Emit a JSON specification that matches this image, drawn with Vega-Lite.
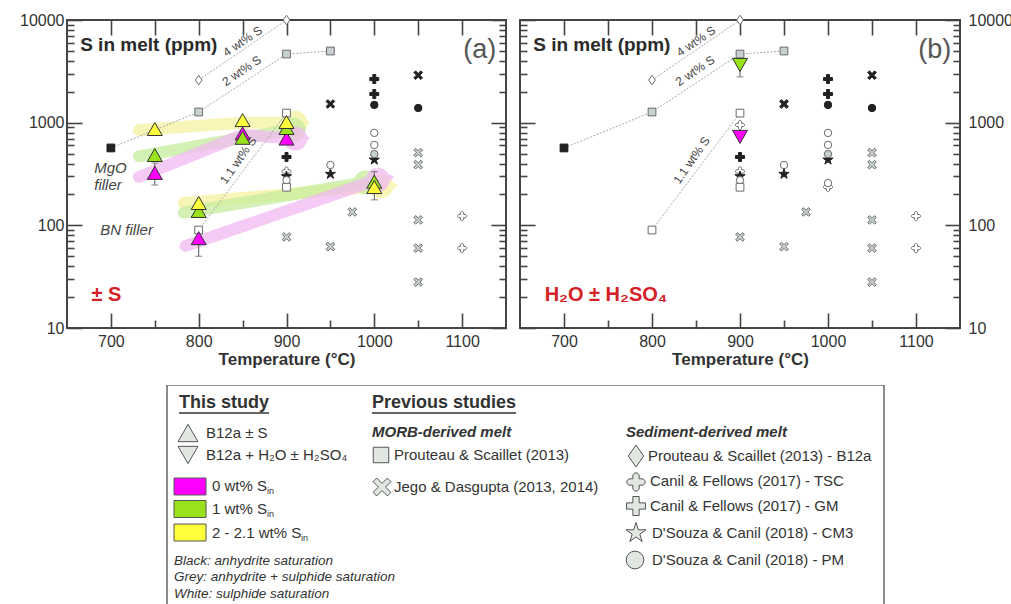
{
"$schema": "https://vega.github.io/schema/vega-lite/v6.json",
"padding": {"left": 18, "top": 11, "right": 0, "bottom": 0},
"background": "white",
"config": {
  "font": "Liberation Sans",
  "view": {"stroke": null},
  "axis": {"domain": false, "grid": false, "tickColor": "#444", "tickWidth": 1.6, "labelColor": "#333", "labelFont": "Liberation Sans", "labelFontSize": 16, "titleFont": "Liberation Sans", "titleFontSize": 17, "titleFontWeight": "bold", "titleColor": "#333"}
},
"datasets": {
  "prev": [
    {"study":"JD","sat":"anhydrite + sulphide","T":900,"S":77},
    {"study":"JD","sat":"anhydrite + sulphide","T":950,"S":62},
    {"study":"JD","sat":"anhydrite + sulphide","T":975,"S":135},
    {"study":"JD","sat":"anhydrite + sulphide","T":1050,"S":510},
    {"study":"JD","sat":"anhydrite + sulphide","T":1050,"S":390},
    {"study":"JD","sat":"anhydrite + sulphide","T":1050,"S":113},
    {"study":"JD","sat":"anhydrite + sulphide","T":1050,"S":60},
    {"study":"JD","sat":"anhydrite + sulphide","T":1050,"S":28},
    {"study":"JD","sat":"anhydrite","T":950,"S":1520},
    {"study":"JD","sat":"anhydrite","T":1050,"S":2900},
    {"study":"CF-TSC","sat":"sulphide","T":1100,"S":123},
    {"study":"CF-TSC","sat":"sulphide","T":1100,"S":60},
    {"study":"CF-TSC","sat":"sulphide","T":900,"S":950},
    {"study":"CF-TSC","sat":"sulphide","T":1000,"S":236},
    {"study":"CF-TSC","sat":"sulphide","T":900,"S":335},
    {"study":"CF-GM","sat":"anhydrite","T":1000,"S":2660},
    {"study":"CF-GM","sat":"anhydrite","T":1000,"S":1900},
    {"study":"CF-GM","sat":"anhydrite","T":900,"S":463},
    {"study":"DC-CM3","sat":"anhydrite","T":950,"S":316},
    {"study":"DC-CM3","sat":"anhydrite","T":1000,"S":435},
    {"study":"DC-CM3","sat":"anhydrite","T":900,"S":300},
    {"study":"DC-PM","sat":"anhydrite","T":1000,"S":1490},
    {"study":"DC-PM","sat":"anhydrite","T":1050,"S":1390},
    {"study":"DC-PM","sat":"sulphide","T":1000,"S":795},
    {"study":"DC-PM","sat":"sulphide","T":1000,"S":607},
    {"study":"DC-PM","sat":"anhydrite + sulphide","T":1000,"S":495},
    {"study":"DC-PM","sat":"sulphide","T":950,"S":387},
    {"study":"DC-PM","sat":"sulphide","T":1000,"S":258},
    {"study":"DC-PM","sat":"sulphide","T":900,"S":275},
    {"study":"PS-MORB","sat":"anhydrite","T":700,"S":567},
    {"study":"PS-MORB","sat":"anhydrite + sulphide","T":800,"S":1270},
    {"study":"PS-MORB","sat":"anhydrite + sulphide","T":900,"S":4660},
    {"study":"PS-MORB","sat":"anhydrite + sulphide","T":950,"S":4990},
    {"study":"PS-MORB","sat":"sulphide","T":800,"S":90},
    {"study":"PS-MORB","sat":"sulphide","T":900,"S":1240},
    {"study":"PS-MORB","sat":"sulphide","T":900,"S":235},
    {"study":"PS-B12a","sat":"sulphide","T":800,"S":2600},
    {"study":"PS-B12a","sat":"sulphide","T":900,"S":10000}
  ],
  "iso": [
    {"iso":"4","T":800,"S":2600},{"iso":"4","T":900,"S":10000},
    {"iso":"2","T":700,"S":567},{"iso":"2","T":800,"S":1270},{"iso":"2","T":900,"S":4660},{"iso":"2","T":950,"S":4990},
    {"iso":"1.1","T":800,"S":90},{"iso":"1.1","T":900,"S":1240}
  ],
  "this": [
    {"panel":"a","study":"B12a ± S","Sin":"0 wt%","T":750,"S":324},
    {"panel":"a","study":"B12a ± S","Sin":"0 wt%","T":800,"S":75},
    {"panel":"a","study":"B12a ± S","Sin":"0 wt%","T":850,"S":785},
    {"panel":"a","study":"B12a ± S","Sin":"0 wt%","T":900,"S":700},
    {"panel":"a","study":"B12a ± S","Sin":"1 wt%","T":750,"S":484},
    {"panel":"a","study":"B12a ± S","Sin":"1 wt%","T":800,"S":138},
    {"panel":"a","study":"B12a ± S","Sin":"1 wt%","T":850,"S":712},
    {"panel":"a","study":"B12a ± S","Sin":"1 wt%","T":900,"S":887},
    {"panel":"a","study":"B12a ± S","Sin":"1 wt%","T":1000,"S":266},
    {"panel":"a","study":"B12a ± S","Sin":"2 - 2.1 wt%","T":750,"S":867},
    {"panel":"a","study":"B12a ± S","Sin":"2 - 2.1 wt%","T":800,"S":165},
    {"panel":"a","study":"B12a ± S","Sin":"2 - 2.1 wt%","T":850,"S":1060},
    {"panel":"a","study":"B12a ± S","Sin":"2 - 2.1 wt%","T":900,"S":1015},
    {"panel":"a","study":"B12a ± S","Sin":"2 - 2.1 wt%","T":1000,"S":236},
    {"panel":"b","study":"B12a + H2O ± H2SO4","Sin":"1 wt%","T":900,"S":3650},
    {"panel":"b","study":"B12a + H2O ± H2SO4","Sin":"0 wt%","T":900,"S":727}
  ],
  "err": [
    {"panel":"a","T":750,"lo":247,"hi":405},
    {"panel":"a","T":800,"lo":50,"hi":95},
    {"panel":"a","T":1000,"lo":177,"hi":333},
    {"panel":"b","T":900,"lo":2790,"hi":4770}
  ],
  "bands": [
    {"band":"Y-MgO","Sin":"2 - 2.1 wt%","seq":1,"part":"shaft","T":732,"S":849},
    {"band":"Y-MgO","Sin":"2 - 2.1 wt%","seq":2,"part":"shaft","T":850,"S":1000},
    {"band":"Y-MgO","Sin":"2 - 2.1 wt%","seq":3,"part":"shaft","T":909,"S":1000},
    {"band":"Y-MgO","Sin":"2 - 2.1 wt%","seq":4,"part":"head","T":910,"S":1000},
    {"band":"Y-MgO","Sin":"2 - 2.1 wt%","seq":5,"part":"tip","T":926,"S":1005},
    {"band":"G-MgO","Sin":"1 wt%","seq":1,"part":"shaft","T":732,"S":470},
    {"band":"G-MgO","Sin":"1 wt%","seq":2,"part":"shaft","T":850,"S":710},
    {"band":"G-MgO","Sin":"1 wt%","seq":3,"part":"shaft","T":907,"S":860},
    {"band":"G-MgO","Sin":"1 wt%","seq":4,"part":"head","T":908,"S":860},
    {"band":"G-MgO","Sin":"1 wt%","seq":5,"part":"tip","T":922,"S":880},
    {"band":"M-MgO","Sin":"0 wt%","seq":1,"part":"shaft","T":732,"S":296},
    {"band":"M-MgO","Sin":"0 wt%","seq":2,"part":"shaft","T":850,"S":760},
    {"band":"M-MgO","Sin":"0 wt%","seq":3,"part":"shaft","T":909,"S":700},
    {"band":"M-MgO","Sin":"0 wt%","seq":4,"part":"head","T":910,"S":700},
    {"band":"M-MgO","Sin":"0 wt%","seq":5,"part":"tip","T":926,"S":705},
    {"band":"Y-BN","Sin":"2 - 2.1 wt%","seq":1,"part":"shaft","T":783,"S":165},
    {"band":"Y-BN","Sin":"2 - 2.1 wt%","seq":2,"part":"shaft","T":1007,"S":240},
    {"band":"Y-BN","Sin":"2 - 2.1 wt%","seq":3,"part":"head","T":1008,"S":240},
    {"band":"Y-BN","Sin":"2 - 2.1 wt%","seq":4,"part":"tip","T":1026,"S":246},
    {"band":"G-BN","Sin":"1 wt%","seq":1,"part":"shaft","T":783,"S":133},
    {"band":"G-BN","Sin":"1 wt%","seq":2,"part":"shaft","T":989,"S":262},
    {"band":"G-BN","Sin":"1 wt%","seq":3,"part":"head","T":990,"S":262},
    {"band":"G-BN","Sin":"1 wt%","seq":4,"part":"tip","T":1006,"S":272},
    {"band":"M-BN","Sin":"0 wt%","seq":1,"part":"shaft","T":785,"S":63},
    {"band":"M-BN","Sin":"0 wt%","seq":2,"part":"shaft","T":1003,"S":278},
    {"band":"M-BN","Sin":"0 wt%","seq":3,"part":"head","T":1004,"S":278},
    {"band":"M-BN","Sin":"0 wt%","seq":4,"part":"tip","T":1022,"S":296}
  ],
  "notes": [
    {"panel":"both","kind":"title","T":665,"S":5700,"text":"S in melt (ppm)"},
    {"panel":"a","kind":"letter","T":1139,"S":5100,"text":"(a)"},
    {"panel":"b","kind":"letter","T":1140,"S":5100,"text":"(b)"},
    {"panel":"both","kind":"isoA","T":850,"S":6200,"text":"4 wt% S"},
    {"panel":"both","kind":"isoA","T":849,"S":3200,"text":"2 wt% S"},
    {"panel":"both","kind":"isoB","T":845,"S":430,"text":"1.1 wt% S"},
    {"panel":"a","kind":"filler","T":681,"S":360,"text":"MgO"},
    {"panel":"a","kind":"filler","T":681,"S":247,"text":"filler"},
    {"panel":"a","kind":"filler","T":688,"S":90,"text":"BN filler"},
    {"panel":"a","kind":"cond","T":678,"S":21,"text":"± S"},
    {"panel":"b","kind":"cond","T":678,"S":21,"text":"H₂O ± H₂SO₄"}
  ],
  "legend": [
    {"kind":"box","bx":0,"bx2":717,"by":0,"by2":226},
    {"kind":"header","bx":12,"by":18,"text":"This study"},
    {"kind":"header","bx":205,"by":18,"text":"Previous studies"},
    {"kind":"uline","bx":12,"bx2":102,"by":28},
    {"kind":"uline","bx":205,"bx2":349,"by":28},
    {"kind":"sub","bx":205,"by":47,"text":"MORB-derived melt"},
    {"kind":"sub","bx":459,"by":47,"text":"Sediment-derived melt"},
    {"kind":"entry","bx":39,"by":48,"text":"B12a ± S"},
    {"kind":"entry","bx":39,"by":70,"text":"B12a + H₂O ± H₂SO₄"},
    {"kind":"entry","bx":45,"by":101,"text":"0 wt% S"},
    {"kind":"entry","bx":45,"by":124,"text":"1 wt% S"},
    {"kind":"entry","bx":45,"by":148,"text":"2 - 2.1 wt% S"},
    {"kind":"subscr","bx":100,"by":106,"text":"in"},
    {"kind":"subscr","bx":100,"by":129,"text":"in"},
    {"kind":"subscr","bx":134,"by":153,"text":"in"},
    {"kind":"entry","bx":227,"by":70,"text":"Prouteau & Scaillet (2013)"},
    {"kind":"entry","bx":227,"by":102,"text":"Jego & Dasgupta (2013, 2014)"},
    {"kind":"entry","bx":481,"by":71,"text":"Prouteau & Scaillet (2013) - B12a"},
    {"kind":"entry","bx":483,"by":96,"text":"Canil & Fellows (2017) - TSC"},
    {"kind":"entry","bx":483,"by":121,"text":"Canil & Fellows (2017) - GM"},
    {"kind":"entry","bx":485,"by":148,"text":"D'Souza & Canil (2018) - CM3"},
    {"kind":"entry","bx":485,"by":175,"text":"D'Souza & Canil (2018) - PM"},
    {"kind":"note","bx":7,"by":176,"text":"Black: anhydrite saturation"},
    {"kind":"note","bx":7,"by":192,"text":"Grey: anhydrite + sulphide saturation"},
    {"kind":"note","bx":7,"by":209,"text":"White: sulphide saturation"},
    {"kind":"symbol","study":"B12a ± S","bx":21,"by":48},
    {"kind":"symbol","study":"B12a + H2O ± H2SO4","bx":21,"by":70},
    {"kind":"symbol","study":"PS-MORB","bx":214,"by":70},
    {"kind":"symbol","study":"JD","bx":215,"by":102},
    {"kind":"symbol","study":"PS-B12a","bx":469,"by":71},
    {"kind":"symbol","study":"CF-TSC","bx":469,"by":97},
    {"kind":"symbol","study":"CF-GM","bx":469,"by":121},
    {"kind":"symbol","study":"DC-CM3","bx":469,"by":148},
    {"kind":"symbol","study":"DC-PM","bx":468,"by":175},
    {"kind":"swatch","Sin":"0 wt%","bx":23,"by":101.5},
    {"kind":"swatch","Sin":"1 wt%","bx":23,"by":124},
    {"kind":"swatch","Sin":"2 - 2.1 wt%","bx":23,"by":147.5}
  ]
},
"resolve": {"scale": {"size": "independent", "shape": "independent", "fill": "independent", "color": "independent", "stroke": "independent"}},
"spacing": 17,
"vconcat": [
{
"hconcat": [
{
  "width": 439, "height": 308,
  "view": {"stroke": "#454545", "strokeWidth": 2},
  "resolve": {"axis": {"x": "independent", "y": "independent"}, "scale": {"size": "independent"}},
  "encoding": {
    "x": {"field": "T", "type": "quantitative", "scale": {"domain": [650, 1150], "nice": false, "zero": false}, "axis": null},
    "y": {"field": "S", "type": "quantitative", "scale": {"type": "log", "domain": [10, 10000], "nice": false}, "axis": null}
  },
  "layer": [
    {"data": {"name": "bands"},
     "mark": {"type": "trail", "opacity": 0.75},
     "encoding": {
       "x": {"field": "T", "type": "quantitative", "scale": {"domain": [650, 1150], "nice": false, "zero": false}, "axis": {"orient": "bottom", "values": [700, 800, 900, 1000, 1100], "tickSize": -15, "labelPadding": 20, "format": "d", "title": "Temperature (°C)", "titlePadding": 2, "labelFlush": false}},
       "y": {"field": "S", "type": "quantitative", "scale": {"type": "log", "domain": [10, 10000], "nice": false}, "axis": {"orient": "left", "values": [10, 100, 1000, 10000], "tickSize": -15, "labelPadding": 18, "format": "d", "title": null}},
       "detail": {"field": "band"},
       "order": {"field": "seq", "type": "quantitative"},
       "size": {"field": "part", "type": "nominal", "scale": {"type": "ordinal", "domain": ["shaft", "head", "tip"], "range": [12, 24, 0]}, "legend": null},
       "color": {"field": "Sin", "type": "nominal", "scale": {"domain": ["0 wt%", "1 wt%", "2 - 2.1 wt%"], "range": ["#f2b8f2", "#c6ec9c", "#f6f2a0"]}, "legend": null}
     }},
    {"data": {"name": "iso"},
     "mark": {"type": "line", "color": "#a8a8a8", "strokeWidth": 1, "strokeDash": [2, 1.5]},
     "encoding": {
       "x": {"field": "T", "type": "quantitative", "axis": {"orient": "bottom", "values": [750, 850, 950, 1050], "tickSize": -8, "labels": false, "title": null}},
       "y": {"field": "S", "type": "quantitative", "axis": {"orient": "left", "values": [20,30,40,50,60,70,80,90,200,300,400,500,600,700,800,900,2000,3000,4000,5000,6000,7000,8000,9000], "tickSize": -7, "labels": false, "title": null}},
       "detail": {"field": "iso"},
       "order": {"field": "T", "type": "quantitative"}
     }},
    {"data": {"name": "notes"}, "transform": [{"filter": "datum.kind === 'isoA'"}],
     "mark": {"type": "text", "align": "center", "baseline": "middle", "fontSize": 12, "color": "#444", "angle": -34},
     "encoding": {"text": {"field": "text"}}},
    {"data": {"name": "notes"}, "transform": [{"filter": "datum.kind === 'isoB'"}],
     "mark": {"type": "text", "align": "center", "baseline": "middle", "fontSize": 12, "color": "#444", "angle": -55},
     "encoding": {"text": {"field": "text"}}},
    {"data": {"name": "err"}, "transform": [{"filter": "datum.panel === 'a'"}],
     "mark": {"type": "rule", "color": "#555", "strokeWidth": 1},
     "encoding": {"y": {"field": "lo", "type": "quantitative", "axis": null}, "y2": {"field": "hi"}}},
    {"data": {"name": "err"}, "transform": [{"filter": "datum.panel === 'a'"}],
     "mark": {"type": "tick", "orient": "horizontal", "color": "#555", "size": 7, "thickness": 1},
     "encoding": {"y": {"field": "lo", "type": "quantitative", "axis": null}}},
    {"data": {"name": "err"}, "transform": [{"filter": "datum.panel === 'a'"}],
     "mark": {"type": "tick", "orient": "horizontal", "color": "#555", "size": 7, "thickness": 1},
     "encoding": {"y": {"field": "hi", "type": "quantitative", "axis": null}}},
    {"data": {"name": "prev"},
     "mark": {"type": "point", "filled": true, "opacity": 1, "strokeWidth": 1},
     "encoding": {
       "x": {"field": "T", "type": "quantitative", "axis": {"orient": "top", "values": [700, 750, 800, 850, 900, 950, 1000, 1050, 1100], "tickSize": -15, "labels": false, "title": null}},
       "y": {"field": "S", "type": "quantitative", "axis": {"orient": "right", "values": [10, 100, 1000, 10000], "tickSize": -15, "labels": false, "title": null}},
       "shape": {"field": "study", "type": "nominal", "legend": null, "scale": {"domain": ["B12a ± S", "B12a + H2O ± H2SO4", "PS-MORB", "JD", "PS-B12a", "CF-TSC", "CF-GM", "DC-CM3", "DC-PM"], "range": ["triangle-up", "triangle-down", "square", "M-1,-0.6L-0.6,-1L0,-0.4L0.6,-1L1,-0.6L0.4,0L1,0.6L0.6,1L0,0.4L-0.6,1L-1,0.6L-0.4,0Z", "M0,-1L0.7,0L0,1L-0.7,0Z", "M-0.35,-0.35L-0.35,-0.65A0.35,0.35 0 0 1 0.35,-0.65L0.35,-0.35L0.65,-0.35A0.35,0.35 0 0 1 0.65,0.35L0.35,0.35L0.35,0.65A0.35,0.35 0 0 1 -0.35,0.65L-0.35,0.35L-0.65,0.35A0.35,0.35 0 0 1 -0.65,-0.35Z", "M-0.33,-1L0.33,-1L0.33,-0.33L1,-0.33L1,0.33L0.33,0.33L0.33,1L-0.33,1L-0.33,0.33L-1,0.33L-1,-0.33L-0.33,-0.33Z", "M0,-1L0.2245,-0.309L0.951,-0.309L0.363,0.118L0.588,0.809L0,0.382L-0.588,0.809L-0.363,0.118L-0.951,-0.309L-0.2245,-0.309Z", "circle"]}},
       "size": {"field": "study", "type": "nominal", "legend": null, "scale": {"type": "ordinal", "domain": ["B12a ± S", "B12a + H2O ± H2SO4", "PS-MORB", "JD", "PS-B12a", "CF-TSC", "CF-GM", "DC-CM3", "DC-PM"], "range": [225, 225, 60, 75, 90, 85, 80, 115, 55]}},
       "fill": {"field": "sat", "type": "nominal", "legend": null, "scale": {"domain": ["anhydrite", "anhydrite + sulphide", "sulphide", "0 wt%", "1 wt%", "2 - 2.1 wt%"], "range": ["#222222", "#c8d1d1", "#ffffff", "#ff00ff", "#99e21b", "#ffff3c"]}},
       "stroke": {"field": "sat", "type": "nominal", "legend": null, "scale": {"domain": ["anhydrite", "anhydrite + sulphide", "sulphide"], "range": ["#1e1e1e", "#6b6b6b", "#6b6b6b"]}}
     }},
    {"data": {"name": "this"}, "transform": [{"filter": "datum.panel === 'a'"}],
     "mark": {"type": "point", "filled": true, "opacity": 1, "stroke": "#333", "strokeWidth": 1},
     "encoding": {
       "y": {"field": "S", "type": "quantitative", "axis": {"orient": "right", "values": [20,30,40,50,60,70,80,90,200,300,400,500,600,700,800,900,2000,3000,4000,5000,6000,7000,8000,9000], "tickSize": -7, "labels": false, "title": null}},
       "shape": {"field": "study", "type": "nominal", "legend": null, "scale": {"domain": ["B12a ± S", "B12a + H2O ± H2SO4", "PS-MORB", "JD", "PS-B12a", "CF-TSC", "CF-GM", "DC-CM3", "DC-PM"], "range": ["triangle-up", "triangle-down", "square", "M-1,-0.6L-0.6,-1L0,-0.4L0.6,-1L1,-0.6L0.4,0L1,0.6L0.6,1L0,0.4L-0.6,1L-1,0.6L-0.4,0Z", "M0,-1L0.7,0L0,1L-0.7,0Z", "M-0.35,-0.35L-0.35,-0.65A0.35,0.35 0 0 1 0.35,-0.65L0.35,-0.35L0.65,-0.35A0.35,0.35 0 0 1 0.65,0.35L0.35,0.35L0.35,0.65A0.35,0.35 0 0 1 -0.35,0.65L-0.35,0.35L-0.65,0.35A0.35,0.35 0 0 1 -0.65,-0.35Z", "M-0.33,-1L0.33,-1L0.33,-0.33L1,-0.33L1,0.33L0.33,0.33L0.33,1L-0.33,1L-0.33,0.33L-1,0.33L-1,-0.33L-0.33,-0.33Z", "M0,-1L0.2245,-0.309L0.951,-0.309L0.363,0.118L0.588,0.809L0,0.382L-0.588,0.809L-0.363,0.118L-0.951,-0.309L-0.2245,-0.309Z", "circle"]}},
       "size": {"field": "study", "type": "nominal", "legend": null, "scale": {"type": "ordinal", "domain": ["B12a ± S", "B12a + H2O ± H2SO4", "PS-MORB", "JD", "PS-B12a", "CF-TSC", "CF-GM", "DC-CM3", "DC-PM"], "range": [225, 225, 60, 75, 90, 85, 80, 115, 55]}},
       "fill": {"field": "Sin", "type": "nominal", "legend": null, "scale": {"domain": ["anhydrite", "anhydrite + sulphide", "sulphide", "0 wt%", "1 wt%", "2 - 2.1 wt%"], "range": ["#222222", "#c8d1d1", "#ffffff", "#ff00ff", "#99e21b", "#ffff3c"]}}
     }},
    {"data": {"name": "notes"}, "transform": [{"filter": "(datum.panel === 'a' || datum.panel === 'both') && datum.kind === 'title'"}],
     "mark": {"type": "text", "align": "left", "baseline": "middle", "fontSize": 19, "fontWeight": "bold", "color": "#2a2a2a"},
     "encoding": {"text": {"field": "text"}}},
    {"data": {"name": "notes"}, "transform": [{"filter": "datum.panel === 'a' && datum.kind === 'letter'"}],
     "mark": {"type": "text", "align": "right", "baseline": "middle", "fontSize": 27, "color": "#555"},
     "encoding": {"text": {"field": "text"}}},
    {"data": {"name": "notes"}, "transform": [{"filter": "datum.panel === 'a' && datum.kind === 'filler'"}],
     "mark": {"type": "text", "align": "left", "baseline": "middle", "fontSize": 15, "fontStyle": "italic", "color": "#444"},
     "encoding": {"text": {"field": "text"}}},
    {"data": {"name": "notes"}, "transform": [{"filter": "datum.panel === 'a' && datum.kind === 'cond'"}],
     "mark": {"type": "text", "align": "left", "baseline": "middle", "fontSize": 20, "fontWeight": "bold", "color": "#d42027"},
     "encoding": {"text": {"field": "text"}}}
  ]
},
{
  "width": 440, "height": 308,
  "view": {"stroke": "#454545", "strokeWidth": 2},
  "resolve": {"axis": {"x": "independent", "y": "independent"}, "scale": {"size": "independent"}},
  "encoding": {
    "x": {"field": "T", "type": "quantitative", "scale": {"domain": [650, 1150], "nice": false, "zero": false}, "axis": null},
    "y": {"field": "S", "type": "quantitative", "scale": {"type": "log", "domain": [10, 10000], "nice": false}, "axis": null}
  },
  "layer": [
    {"data": {"name": "iso"},
     "mark": {"type": "line", "color": "#a8a8a8", "strokeWidth": 1, "strokeDash": [2, 1.5]},
     "encoding": {
       "x": {"field": "T", "type": "quantitative", "scale": {"domain": [650, 1150], "nice": false, "zero": false}, "axis": {"orient": "bottom", "values": [700, 800, 900, 1000, 1100], "tickSize": -15, "labelPadding": 20, "format": "d", "title": "Temperature (°C)", "titlePadding": 2, "labelFlush": false}},
       "y": {"field": "S", "type": "quantitative", "scale": {"type": "log", "domain": [10, 10000], "nice": false}, "axis": {"orient": "left", "values": [10, 100, 1000, 10000], "tickSize": -15, "labels": false, "title": null}},
       "detail": {"field": "iso"},
       "order": {"field": "T", "type": "quantitative"}
     }},
    {"data": {"name": "notes"}, "transform": [{"filter": "datum.kind === 'isoA'"}],
     "mark": {"type": "text", "align": "center", "baseline": "middle", "fontSize": 12, "color": "#444", "angle": -34},
     "encoding": {"text": {"field": "text"}}},
    {"data": {"name": "notes"}, "transform": [{"filter": "datum.kind === 'isoB'"}],
     "mark": {"type": "text", "align": "center", "baseline": "middle", "fontSize": 12, "color": "#444", "angle": -55},
     "encoding": {"text": {"field": "text"}}},
    {"data": {"name": "err"}, "transform": [{"filter": "datum.panel === 'b'"}],
     "mark": {"type": "rule", "color": "#555", "strokeWidth": 1},
     "encoding": {
       "x": {"field": "T", "type": "quantitative", "axis": {"orient": "bottom", "values": [750, 850, 950, 1050], "tickSize": -8, "labels": false, "title": null}},
       "y": {"field": "lo", "type": "quantitative", "axis": {"orient": "left", "values": [20,30,40,50,60,70,80,90,200,300,400,500,600,700,800,900,2000,3000,4000,5000,6000,7000,8000,9000], "tickSize": -7, "labels": false, "title": null}},
       "y2": {"field": "hi"}}},
    {"data": {"name": "err"}, "transform": [{"filter": "datum.panel === 'b'"}],
     "mark": {"type": "tick", "orient": "horizontal", "color": "#555", "size": 7, "thickness": 1},
     "encoding": {"y": {"field": "lo", "type": "quantitative", "axis": null}}},
    {"data": {"name": "prev"},
     "mark": {"type": "point", "filled": true, "opacity": 1, "strokeWidth": 1},
     "encoding": {
       "x": {"field": "T", "type": "quantitative", "axis": {"orient": "top", "values": [700, 750, 800, 850, 900, 950, 1000, 1050, 1100], "tickSize": -15, "labels": false, "title": null}},
       "y": {"field": "S", "type": "quantitative", "axis": {"orient": "right", "values": [10, 100, 1000, 10000], "tickSize": -15, "labelPadding": 23, "format": "d", "title": null}},
       "shape": {"field": "study", "type": "nominal", "legend": null, "scale": {"domain": ["B12a ± S", "B12a + H2O ± H2SO4", "PS-MORB", "JD", "PS-B12a", "CF-TSC", "CF-GM", "DC-CM3", "DC-PM"], "range": ["triangle-up", "triangle-down", "square", "M-1,-0.6L-0.6,-1L0,-0.4L0.6,-1L1,-0.6L0.4,0L1,0.6L0.6,1L0,0.4L-0.6,1L-1,0.6L-0.4,0Z", "M0,-1L0.7,0L0,1L-0.7,0Z", "M-0.35,-0.35L-0.35,-0.65A0.35,0.35 0 0 1 0.35,-0.65L0.35,-0.35L0.65,-0.35A0.35,0.35 0 0 1 0.65,0.35L0.35,0.35L0.35,0.65A0.35,0.35 0 0 1 -0.35,0.65L-0.35,0.35L-0.65,0.35A0.35,0.35 0 0 1 -0.65,-0.35Z", "M-0.33,-1L0.33,-1L0.33,-0.33L1,-0.33L1,0.33L0.33,0.33L0.33,1L-0.33,1L-0.33,0.33L-1,0.33L-1,-0.33L-0.33,-0.33Z", "M0,-1L0.2245,-0.309L0.951,-0.309L0.363,0.118L0.588,0.809L0,0.382L-0.588,0.809L-0.363,0.118L-0.951,-0.309L-0.2245,-0.309Z", "circle"]}},
       "size": {"field": "study", "type": "nominal", "legend": null, "scale": {"type": "ordinal", "domain": ["B12a ± S", "B12a + H2O ± H2SO4", "PS-MORB", "JD", "PS-B12a", "CF-TSC", "CF-GM", "DC-CM3", "DC-PM"], "range": [225, 225, 60, 75, 90, 85, 80, 115, 55]}},
       "fill": {"field": "sat", "type": "nominal", "legend": null, "scale": {"domain": ["anhydrite", "anhydrite + sulphide", "sulphide", "0 wt%", "1 wt%", "2 - 2.1 wt%"], "range": ["#222222", "#c8d1d1", "#ffffff", "#ff00ff", "#99e21b", "#ffff3c"]}},
       "stroke": {"field": "sat", "type": "nominal", "legend": null, "scale": {"domain": ["anhydrite", "anhydrite + sulphide", "sulphide"], "range": ["#1e1e1e", "#6b6b6b", "#6b6b6b"]}}
     }},
    {"data": {"name": "this"}, "transform": [{"filter": "datum.panel === 'b'"}],
     "mark": {"type": "point", "filled": true, "opacity": 1, "stroke": "#333", "strokeWidth": 1},
     "encoding": {
       "y": {"field": "S", "type": "quantitative", "axis": {"orient": "right", "values": [20,30,40,50,60,70,80,90,200,300,400,500,600,700,800,900,2000,3000,4000,5000,6000,7000,8000,9000], "tickSize": -7, "labels": false, "title": null}},
       "shape": {"field": "study", "type": "nominal", "legend": null, "scale": {"domain": ["B12a ± S", "B12a + H2O ± H2SO4", "PS-MORB", "JD", "PS-B12a", "CF-TSC", "CF-GM", "DC-CM3", "DC-PM"], "range": ["triangle-up", "triangle-down", "square", "M-1,-0.6L-0.6,-1L0,-0.4L0.6,-1L1,-0.6L0.4,0L1,0.6L0.6,1L0,0.4L-0.6,1L-1,0.6L-0.4,0Z", "M0,-1L0.7,0L0,1L-0.7,0Z", "M-0.35,-0.35L-0.35,-0.65A0.35,0.35 0 0 1 0.35,-0.65L0.35,-0.35L0.65,-0.35A0.35,0.35 0 0 1 0.65,0.35L0.35,0.35L0.35,0.65A0.35,0.35 0 0 1 -0.35,0.65L-0.35,0.35L-0.65,0.35A0.35,0.35 0 0 1 -0.65,-0.35Z", "M-0.33,-1L0.33,-1L0.33,-0.33L1,-0.33L1,0.33L0.33,0.33L0.33,1L-0.33,1L-0.33,0.33L-1,0.33L-1,-0.33L-0.33,-0.33Z", "M0,-1L0.2245,-0.309L0.951,-0.309L0.363,0.118L0.588,0.809L0,0.382L-0.588,0.809L-0.363,0.118L-0.951,-0.309L-0.2245,-0.309Z", "circle"]}},
       "size": {"field": "study", "type": "nominal", "legend": null, "scale": {"type": "ordinal", "domain": ["B12a ± S", "B12a + H2O ± H2SO4", "PS-MORB", "JD", "PS-B12a", "CF-TSC", "CF-GM", "DC-CM3", "DC-PM"], "range": [225, 225, 60, 75, 90, 85, 80, 115, 55]}},
       "fill": {"field": "Sin", "type": "nominal", "legend": null, "scale": {"domain": ["anhydrite", "anhydrite + sulphide", "sulphide", "0 wt%", "1 wt%", "2 - 2.1 wt%"], "range": ["#222222", "#c8d1d1", "#ffffff", "#ff00ff", "#99e21b", "#ffff3c"]}}
     }},
    {"data": {"name": "notes"}, "transform": [{"filter": "(datum.panel === 'b' || datum.panel === 'both') && datum.kind === 'title'"}],
     "mark": {"type": "text", "align": "left", "baseline": "middle", "fontSize": 19, "fontWeight": "bold", "color": "#2a2a2a"},
     "encoding": {"text": {"field": "text"}}},
    {"data": {"name": "notes"}, "transform": [{"filter": "datum.panel === 'b' && datum.kind === 'letter'"}],
     "mark": {"type": "text", "align": "right", "baseline": "middle", "fontSize": 27, "color": "#555"},
     "encoding": {"text": {"field": "text"}}},
    {"data": {"name": "notes"}, "transform": [{"filter": "datum.panel === 'b' && datum.kind === 'cond'"}],
     "mark": {"type": "text", "align": "left", "baseline": "middle", "fontSize": 20, "fontWeight": "bold", "color": "#d42027"},
     "encoding": {"text": {"field": "text"}}}
  ]
}
],
"spacing": 10
},
{
  "width": 940, "height": 219,
  "data": {"name": "legend"},
  "encoding": {
    "x": {"field": "bx", "type": "quantitative", "scale": {"domain": [-100, 840], "nice": false, "zero": false}, "axis": null},
    "y": {"field": "by", "type": "quantitative", "scale": {"domain": [0, 219], "reverse": true, "nice": false, "zero": false}, "axis": null}
  },
  "layer": [
    {"transform": [{"filter": "datum.kind === 'box'"}],
     "mark": {"type": "rect", "fillOpacity": 0, "stroke": "#6e6e6e", "strokeWidth": 1.6, "clip": true},
     "encoding": {"x2": {"field": "bx2"}, "y2": {"field": "by2"}}},
    {"transform": [{"filter": "datum.kind === 'uline'"}],
     "mark": {"type": "rule", "color": "#333", "strokeWidth": 1.3},
     "encoding": {"x2": {"field": "bx2"}}},
    {"transform": [{"filter": "datum.kind === 'header'"}],
     "mark": {"type": "text", "align": "left", "baseline": "middle", "fontSize": 18, "fontWeight": "bold", "color": "#333"},
     "encoding": {"text": {"field": "text"}}},
    {"transform": [{"filter": "datum.kind === 'sub'"}],
     "mark": {"type": "text", "align": "left", "baseline": "middle", "fontSize": 15, "fontWeight": "bold", "fontStyle": "italic", "color": "#333"},
     "encoding": {"text": {"field": "text"}}},
    {"transform": [{"filter": "datum.kind === 'entry'"}],
     "mark": {"type": "text", "align": "left", "baseline": "middle", "fontSize": 15, "color": "#333"},
     "encoding": {"text": {"field": "text"}}},
    {"transform": [{"filter": "datum.kind === 'subscr'"}],
     "mark": {"type": "text", "align": "left", "baseline": "middle", "fontSize": 9, "color": "#333"},
     "encoding": {"text": {"field": "text"}}},
    {"transform": [{"filter": "datum.kind === 'note'"}],
     "mark": {"type": "text", "align": "left", "baseline": "middle", "fontSize": 13.5, "fontStyle": "italic", "color": "#333"},
     "encoding": {"text": {"field": "text"}}},
    {"transform": [{"filter": "datum.kind === 'symbol'"}],
     "mark": {"type": "point", "filled": true, "opacity": 1, "fill": "#e0e6e0", "stroke": "#555", "strokeWidth": 1},
     "encoding": {
       "shape": {"field": "study", "type": "nominal", "legend": null, "scale": {"domain": ["B12a ± S", "B12a + H2O ± H2SO4", "PS-MORB", "JD", "PS-B12a", "CF-TSC", "CF-GM", "DC-CM3", "DC-PM"], "range": ["triangle-up", "triangle-down", "square", "M-1,-0.6L-0.6,-1L0,-0.4L0.6,-1L1,-0.6L0.4,0L1,0.6L0.6,1L0,0.4L-0.6,1L-1,0.6L-0.4,0Z", "M0,-1L0.7,0L0,1L-0.7,0Z", "M-0.35,-0.35L-0.35,-0.65A0.35,0.35 0 0 1 0.35,-0.65L0.35,-0.35L0.65,-0.35A0.35,0.35 0 0 1 0.65,0.35L0.35,0.35L0.35,0.65A0.35,0.35 0 0 1 -0.35,0.65L-0.35,0.35L-0.65,0.35A0.35,0.35 0 0 1 -0.65,-0.35Z", "M-0.33,-1L0.33,-1L0.33,-0.33L1,-0.33L1,0.33L0.33,0.33L0.33,1L-0.33,1L-0.33,0.33L-1,0.33L-1,-0.33L-0.33,-0.33Z", "M0,-1L0.2245,-0.309L0.951,-0.309L0.363,0.118L0.588,0.809L0,0.382L-0.588,0.809L-0.363,0.118L-0.951,-0.309L-0.2245,-0.309Z", "circle"]}},
       "size": {"field": "study", "type": "nominal", "legend": null, "scale": {"type": "ordinal", "domain": ["B12a ± S", "B12a + H2O ± H2SO4", "PS-MORB", "JD", "PS-B12a", "CF-TSC", "CF-GM", "DC-CM3", "DC-PM"], "range": [400, 400, 240, 320, 480, 335, 360, 440, 313]}}
     }},
    {"transform": [{"filter": "datum.kind === 'swatch'"}],
     "mark": {"type": "point", "filled": true, "opacity": 1, "shape": "M-1,-0.53L1,-0.53L1,0.53L-1,0.53Z", "size": 1024, "stroke": "#555", "strokeWidth": 1},
     "encoding": {
       "fill": {"field": "Sin", "type": "nominal", "legend": null, "scale": {"domain": ["0 wt%", "1 wt%", "2 - 2.1 wt%"], "range": ["#ff00ff", "#99e21b", "#ffff3c"]}}
     }}
  ]
}
]
}
